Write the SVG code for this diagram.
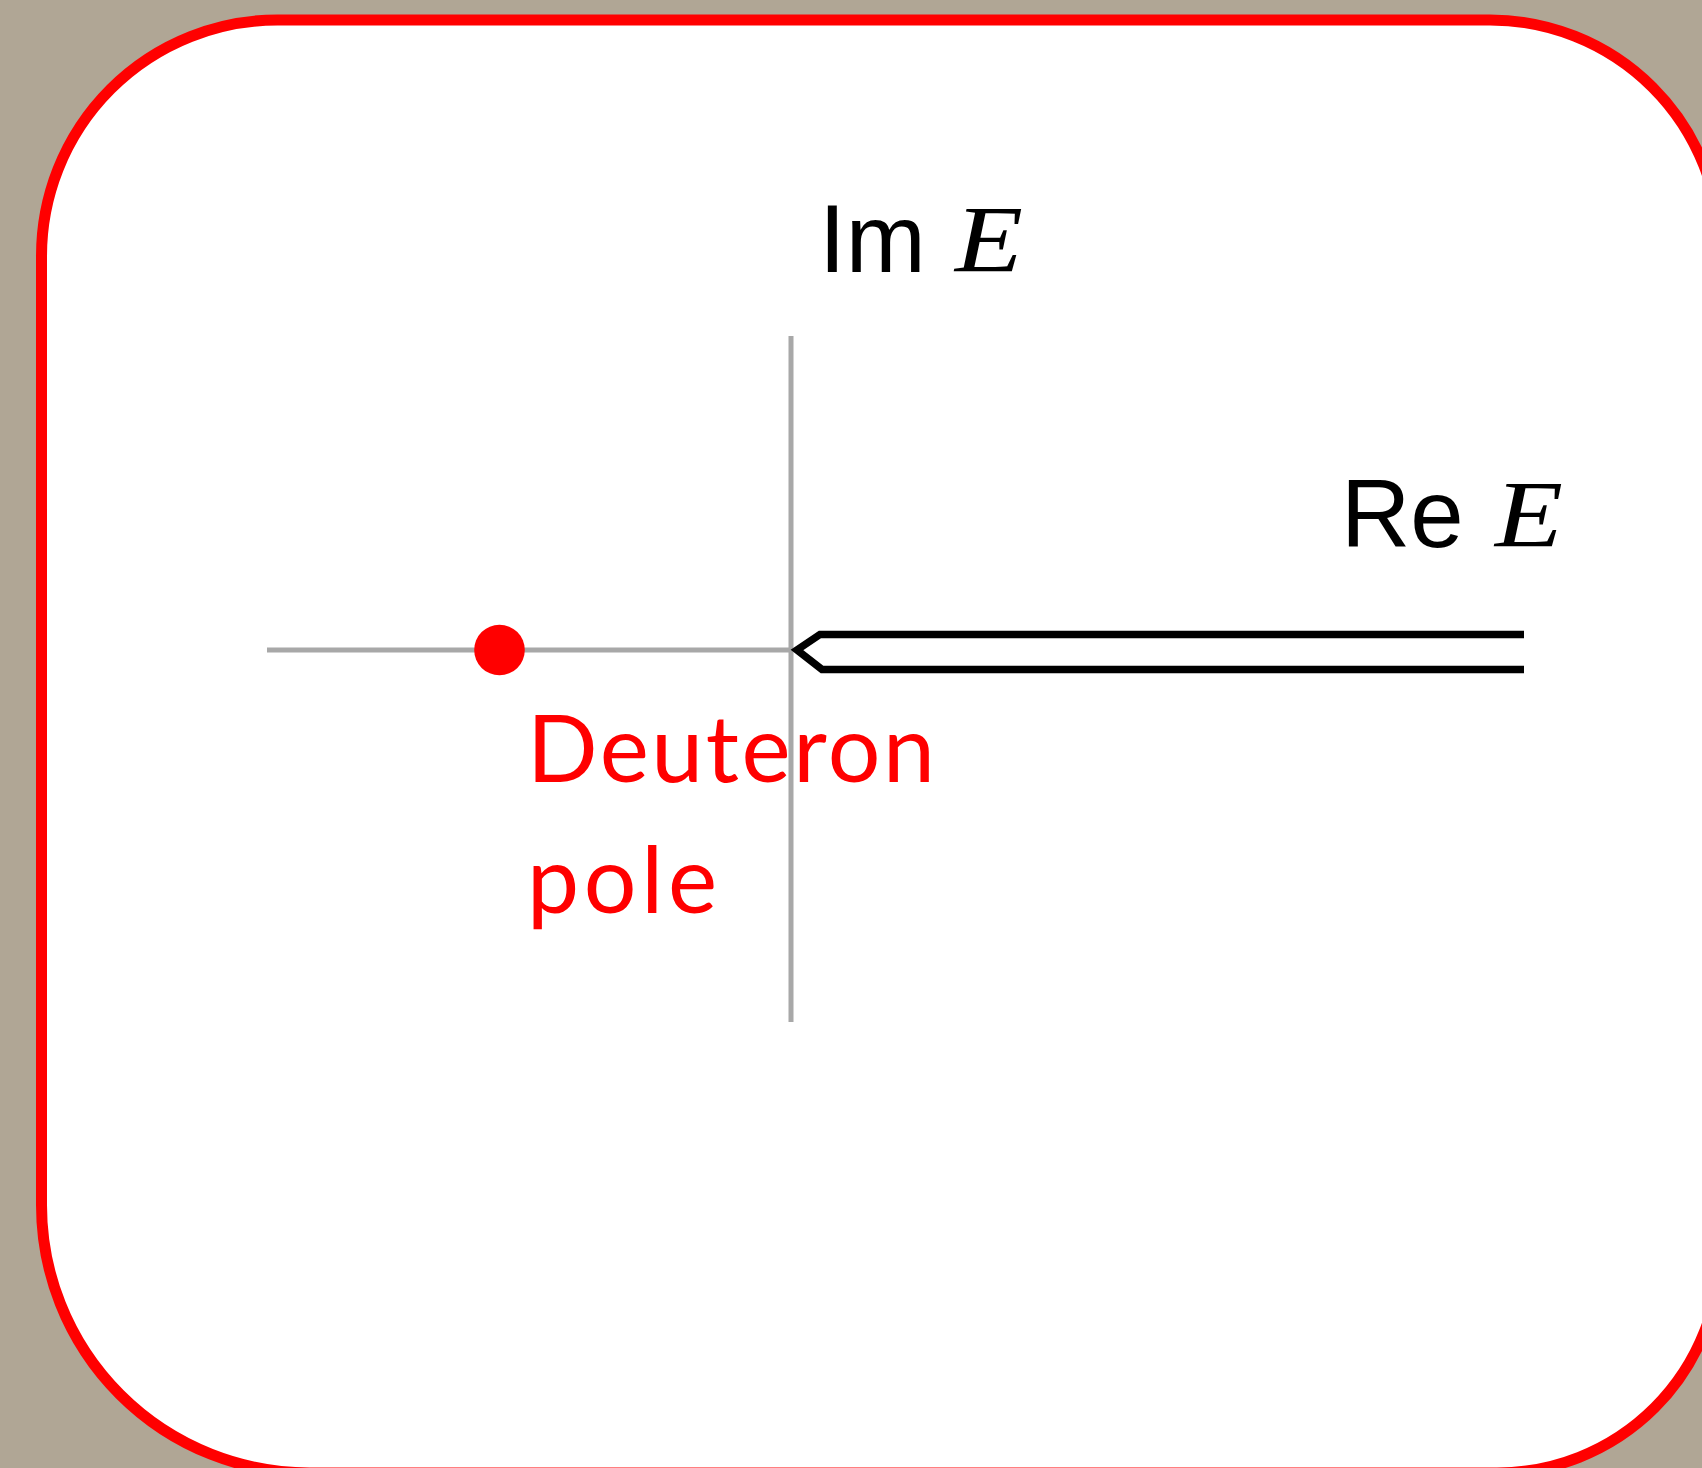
<svg xmlns="http://www.w3.org/2000/svg" width="1702" height="1468" viewBox="0 0 1702 1468">
  <style>
    .axis { stroke: #a8a8a8; stroke-width: 5; fill: none; }
    .cut { stroke: #000; stroke-width: 7.5; fill: none; stroke-linejoin: miter; }
    .lbl { font-family: "Liberation Sans", Arial, sans-serif; font-size: 96px; fill: #000; }
    .var { font-family: "Liberation Serif", "Times New Roman", serif; font-style: italic; font-size: 96px; fill: #000; }
    .red { font-family: Lato, "Noto Sans", sans-serif; font-size: 93px; fill: #ff0000; }
  </style>
  <rect id="background" x="0" y="0" width="1702" height="1468" fill="#b0a695"/>
  <g id="frame">
    <path d="M 41.5 256 A 236 236 0 0 1 277.5 20 L 1490 20 A 230 230 0 0 1 1720 250 L 1720 1250 A 223 223 0 0 1 1497 1473 L 309.5 1473 A 268 268 0 0 1 41.5 1205 Z" fill="#ffffff" stroke="#ff0000" stroke-width="11"/>
  </g>
  <g id="axes">
    <line class="axis" x1="791" y1="336" x2="791" y2="1022"/>
    <line class="axis" x1="267" y1="650" x2="791" y2="650"/>
  </g>
  <g id="connectors">
    <path id="branch-cut" class="cut" d="M 1524 634.5 L 820 634.5 L 797 650 L 822 669.5 L 1524 669.5"/>
  </g>
  <g id="pole">
    <circle cx="499.5" cy="650" r="25.3" fill="#ff0000"/>
    <text class="red" x="527" y="782" textLength="408" lengthAdjust="spacing">Deuteron</text>
    <text class="red" x="527" y="913" textLength="190" lengthAdjust="spacing">pole</text>
  </g>
  <g id="label-im">
    <text class="lbl" x="819" y="272">Im</text>
    <text class="var" x="955" y="272" textLength="68" lengthAdjust="spacingAndGlyphs">E</text>
  </g>
  <g id="label-re">
    <text class="lbl" x="1341" y="547">Re</text>
    <text class="var" x="1495" y="547" textLength="68" lengthAdjust="spacingAndGlyphs">E</text>
  </g>
</svg>
